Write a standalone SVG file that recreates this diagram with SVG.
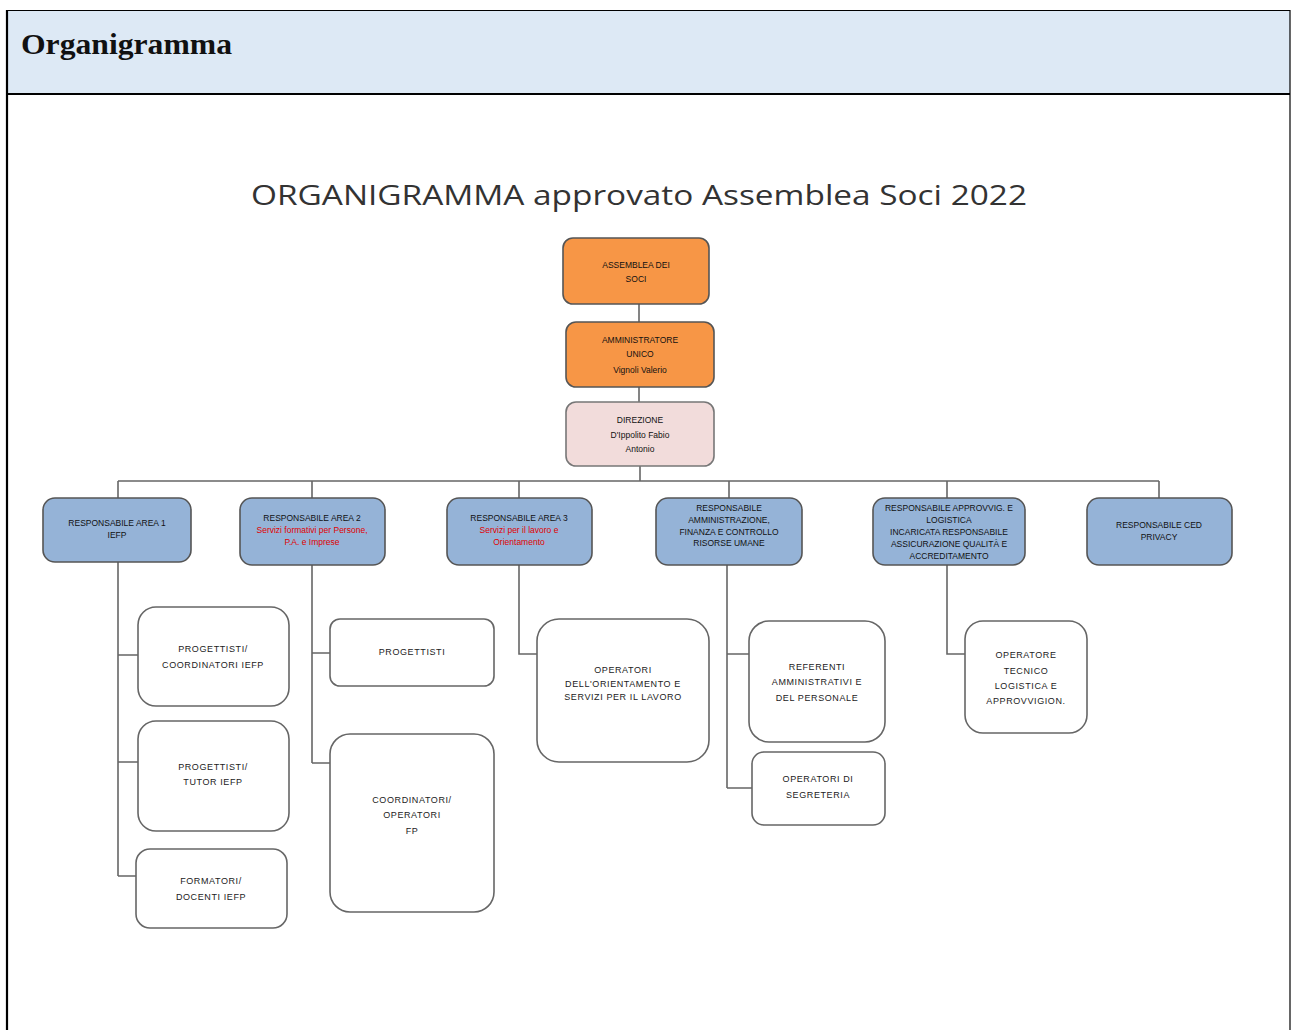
<svg xmlns="http://www.w3.org/2000/svg" width="1291" height="1030" viewBox="0 0 1291 1030">
<style>
.t{font-family:"Liberation Sans",Arial,sans-serif;font-size:8.5px;fill:#111;text-anchor:middle}
.s{font-family:"Liberation Sans",Arial,sans-serif;font-size:9px;fill:#222;text-anchor:middle;letter-spacing:0.6px}
.r{fill:#e00000}
.top{fill:#f79646;stroke:#555;stroke-width:1.6}
.dir{fill:#f2dcdb;stroke:#777;stroke-width:1.6}
.l2{fill:#95b3d7;stroke:#555;stroke-width:1.6}
.ch{fill:#fff;stroke:#666;stroke-width:1.6}
.c{fill:none;stroke:#666;stroke-width:1.6}
</style>
<rect x="7" y="10" width="1283" height="84" fill="#dde9f5"/>
<line x1="7" y1="10.5" x2="1290" y2="10.5" stroke="#000" stroke-width="1.2"/>
<line x1="7" y1="94" x2="1290" y2="94" stroke="#000" stroke-width="2"/>
<line x1="7" y1="10" x2="7" y2="1030" stroke="#000" stroke-width="2.2"/>
<line x1="1290" y1="10" x2="1290" y2="1030" stroke="#000" stroke-width="1.2"/>
<text x="21" y="54" font-family="Liberation Serif,Times New Roman,serif" font-weight="bold" font-size="29" fill="#111" textLength="211" lengthAdjust="spacingAndGlyphs">Organigramma</text>
<text x="639" y="205" font-family="Open Sans,Liberation Sans,sans-serif" font-size="28" fill="#333" text-anchor="middle" textLength="776" lengthAdjust="spacingAndGlyphs">ORGANIGRAMMA approvato Assemblea Soci 2022</text>

<g id="connectors">
<path class="c" d="M639 304V322M639 387V402M640 466V481M118 481H1159M118 481V498M312 481V498M519 481V498M729 481V498M947 481V498M1159 481V498"/>
<path class="c" d="M118 562V876M118 655H138M118 762H138M118 876H136"/>
<path class="c" d="M312 565V763M312 653H330M312 763H330"/>
<path class="c" d="M519 565V654H537"/>
<path class="c" d="M727 565V788M727 654H749M727 788H752"/>
<path class="c" d="M947 565V654H965"/>
</g>

<g id="assemblea"><rect class="top" x="563" y="238" width="146" height="66" rx="10"/>
<text class="t" x="636" y="268">ASSEMBLEA DEI</text><text class="t" x="636" y="282">SOCI</text></g>
<g id="amministratore"><rect class="top" x="566" y="322" width="148" height="65" rx="10"/>
<text class="t" x="640" y="343">AMMINISTRATORE</text><text class="t" x="640" y="357">UNICO</text><text class="t" x="640" y="373">Vignoli Valerio</text></g>
<g id="direzione"><rect class="dir" x="566" y="402" width="148" height="64" rx="10"/>
<text class="t" x="640" y="423">DIREZIONE</text><text class="t" x="640" y="438">D'Ippolito Fabio</text><text class="t" x="640" y="452">Antonio</text></g>

<g id="area1"><rect class="l2" x="43" y="498" width="148" height="64" rx="12"/>
<text class="t" x="117" y="526">RESPONSABILE AREA 1</text><text class="t" x="117" y="538">IEFP</text></g>
<g id="area2"><rect class="l2" x="240" y="498" width="145" height="67" rx="12"/>
<text class="t" x="312" y="521">RESPONSABILE AREA 2</text><text class="t r" x="312" y="533">Servizi formativi per Persone,</text><text class="t r" x="312" y="545">P.A. e Imprese</text></g>
<g id="area3"><rect class="l2" x="447" y="498" width="145" height="67" rx="12"/>
<text class="t" x="519" y="521">RESPONSABILE AREA 3</text><text class="t r" x="519" y="533">Servizi per il lavoro e</text><text class="t r" x="519" y="545">Orientamento</text></g>
<g id="amministrazione"><rect class="l2" x="656" y="498" width="146" height="67" rx="12"/>
<text class="t" x="729" y="511">RESPONSABILE</text><text class="t" x="729" y="523">AMMINISTRAZIONE,</text><text class="t" x="729" y="535">FINANZA E CONTROLLO</text><text class="t" x="729" y="546">RISORSE UMANE</text></g>
<g id="logistica"><rect class="l2" x="873" y="498" width="152" height="67" rx="12"/>
<text class="t" x="949" y="511">RESPONSABILE APPROVVIG. E</text><text class="t" x="949" y="523">LOGISTICA</text><text class="t" x="949" y="535">INCARICATA RESPONSABILE</text><text class="t" x="949" y="547">ASSICURAZIONE QUALITÀ E</text><text class="t" x="949" y="559">ACCREDITAMENTO</text></g>
<g id="privacy"><rect class="l2" x="1087" y="498" width="145" height="67" rx="12"/>
<text class="t" x="1159" y="528">RESPONSABILE CED</text><text class="t" x="1159" y="540">PRIVACY</text></g>

<g id="prog-coord"><rect class="ch" x="138" y="607" width="151" height="99" rx="18"/>
<text class="s" x="213" y="652">PROGETTISTI/</text><text class="s" x="213" y="668">COORDINATORI IEFP</text></g>
<g id="prog-tutor"><rect class="ch" x="138" y="721" width="151" height="110" rx="18"/>
<text class="s" x="213" y="770">PROGETTISTI/</text><text class="s" x="213" y="785">TUTOR IEFP</text></g>
<g id="formatori"><rect class="ch" x="136" y="849" width="151" height="79" rx="14"/>
<text class="s" x="211" y="884">FORMATORI/</text><text class="s" x="211" y="900">DOCENTI IEFP</text></g>
<g id="progettisti"><rect class="ch" x="330" y="619" width="164" height="67" rx="10"/>
<text class="s" x="412" y="655">PROGETTISTI</text></g>
<g id="coord-fp"><rect class="ch" x="330" y="734" width="164" height="178" rx="20"/>
<text class="s" x="412" y="803">COORDINATORI/</text><text class="s" x="412" y="818">OPERATORI</text><text class="s" x="412" y="834">FP</text></g>
<g id="orientamento"><rect class="ch" x="537" y="619" width="172" height="143" rx="22"/>
<text class="s" x="623" y="673">OPERATORI</text><text class="s" x="623" y="687">DELL'ORIENTAMENTO  E</text><text class="s" x="623" y="700">SERVIZI PER IL LAVORO</text></g>
<g id="referenti"><rect class="ch" x="749" y="621" width="136" height="121" rx="20"/>
<text class="s" x="817" y="670">REFERENTI</text><text class="s" x="817" y="685">AMMINISTRATIVI E</text><text class="s" x="817" y="701">DEL PERSONALE</text></g>
<g id="segreteria"><rect class="ch" x="752" y="752" width="133" height="73" rx="12"/>
<text class="s" x="818" y="782">OPERATORI DI</text><text class="s" x="818" y="798">SEGRETERIA</text></g>
<g id="tecnico"><rect class="ch" x="965" y="621" width="122" height="112" rx="18"/>
<text class="s" x="1026" y="658">OPERATORE</text><text class="s" x="1026" y="674">TECNICO</text><text class="s" x="1026" y="689">LOGISTICA E</text><text class="s" x="1026" y="704">APPROVVIGION.</text></g>
</svg>
